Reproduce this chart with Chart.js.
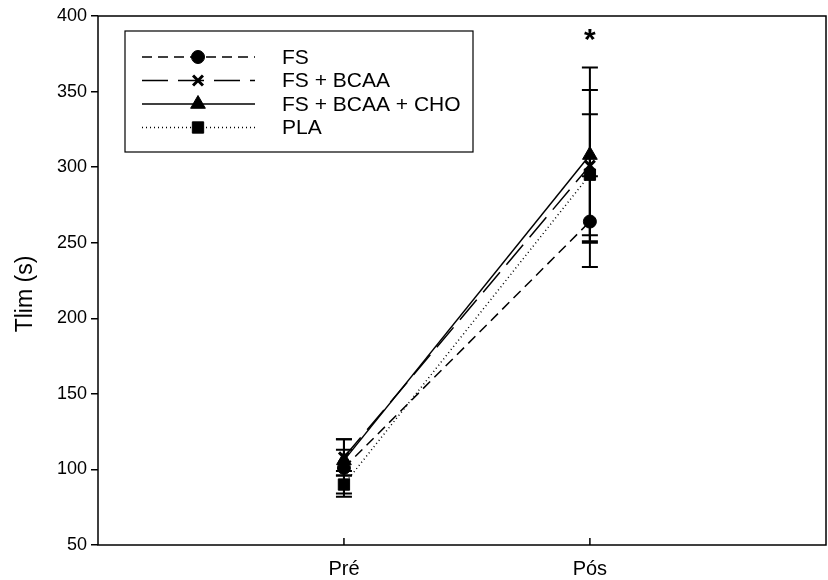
<!DOCTYPE html>
<html>
<head>
<meta charset="utf-8">
<script src="https://cdn.jsdelivr.net/npm/chart.js@4.4.1/dist/chart.umd.min.js"></script>
<style>
  html, body { margin: 0; padding: 0; background: #fff; }
  #wrap { width: 828px; height: 580px; }
</style>
</head>
<body>
<div id="wrap"><canvas id="tlimChart" width="828" height="580"></canvas></div>
<script>
// categories on the x axis (placed at x = 1, 2)
const categories = ["Pré", "Pós"];
const catX = [1, 2];

// mean values and error (± SD)
const fsMean = [101, 264];
const fsErr = [19, 30];
const bcaaMean = [108, 301];
const bcaaErr = [12, 50];
const choMean = [106, 308];
const choErr = [7, 58];
const plaMean = [90, 295];
const plaErr = [6, 40];

const yTicks = [50, 100, 150, 200, 250, 300, 350, 400];
const yTitle = "Tlim (s)";
const starValue = 388; // "*" above Pós

const FONT = "'Liberation Sans', Arial, sans-serif";

const toPts = (arr) => arr.map((v, i) => ({ x: catX[i], y: v }));

const series = [
  { label: "FS", mean: fsMean, err: fsErr, dash: [10, 6], style: "circle", r: 6.5, bw: 1 },
  { label: "FS + BCAA", mean: bcaaMean, err: bcaaErr, dash: [26, 10], style: "crossRot", r: 7, bw: 3 },
  { label: "FS + BCAA + CHO", mean: choMean, err: choErr, dash: [], style: "triangle", r: 8.5, bw: 1 },
  { label: "PLA", mean: plaMean, err: plaErr, dash: [1, 3], style: "rect", r: 8, bw: 1 }
];

const datasets = series.map(s => ({
  label: s.label,
  data: toPts(s.mean),
  borderColor: "#000",
  backgroundColor: "#000",
  borderWidth: 1.5,
  borderDash: s.dash,
  pointStyle: s.style,
  pointRadius: s.r,
  pointBorderWidth: s.bw,
  pointBackgroundColor: "#000",
  pointBorderColor: "#000",
  tension: 0,
  errors: s.err
}));

// error bars, drawn under the markers
const errorBars = {
  id: "errorBars",
  beforeDatasetsDraw(chart) {
    const { ctx, scales: { x, y } } = chart;
    ctx.save();
    ctx.strokeStyle = "#000";
    ctx.lineWidth = 2;
    ctx.setLineDash([]);
    chart.data.datasets.forEach(ds => {
      ds.data.forEach((p, i) => {
        const px = x.getPixelForValue(p.x);
        const hi = y.getPixelForValue(p.y + ds.errors[i]);
        const lo = y.getPixelForValue(p.y - ds.errors[i]);
        ctx.beginPath();
        ctx.moveTo(px, hi); ctx.lineTo(px, lo);
        ctx.moveTo(px - 8, hi); ctx.lineTo(px + 8, hi);
        ctx.moveTo(px - 8, lo); ctx.lineTo(px + 8, lo);
        ctx.stroke();
      });
    });
    ctx.restore();
  }
};

function drawMarker(ctx, s, cx, cy) {
  const opts = { pointStyle: s.style, radius: s.r, borderWidth: s.bw, rotation: 0 };
  ctx.fillStyle = "#000";
  ctx.strokeStyle = "#000";
  ctx.lineWidth = s.bw;
  ctx.setLineDash([]);
  Chart.helpers.drawPoint(ctx, opts, cx, cy);
}

// frame, inside x ticks, y title, asterisk and the boxed legend
const extras = {
  id: "extras",
  afterDraw(chart) {
    const { ctx, chartArea: a, scales: { x, y } } = chart;
    ctx.save();
    ctx.strokeStyle = "#000";
    ctx.lineWidth = 1.5;
    ctx.setLineDash([]);
    ctx.strokeRect(a.left, a.top, a.right - a.left, a.bottom - a.top);

    // x ticks pointing into the plot
    catX.forEach(v => {
      const px = x.getPixelForValue(v);
      ctx.beginPath();
      ctx.moveTo(px, a.bottom);
      ctx.lineTo(px, a.bottom - 7);
      ctx.stroke();
    });

    // y axis title (sits a bit below the axis middle in the original)
    ctx.save();
    ctx.fillStyle = "#000";
    ctx.font = "23px " + FONT;
    ctx.textAlign = "center";
    ctx.textBaseline = "alphabetic";
    ctx.translate(32, 294);
    ctx.rotate(-Math.PI / 2);
    ctx.fillText(yTitle, 0, 0);
    ctx.restore();

    // significance mark
    ctx.fillStyle = "#000";
    ctx.font = "bold 30px " + FONT;
    ctx.textAlign = "center";
    ctx.textBaseline = "middle";
    ctx.fillText("*", x.getPixelForValue(catX[1]), y.getPixelForValue(starValue) + 7);

    // legend
    const lx = 125, ly = 31, lw = 348, lh = 121;
    ctx.fillStyle = "#fff";
    ctx.fillRect(lx, ly, lw, lh);
    ctx.lineWidth = 1.2;
    ctx.strokeRect(lx, ly, lw, lh);
    ctx.font = "21px " + FONT;
    ctx.textAlign = "left";
    series.forEach((s, i) => {
      const rowY = 57 + i * 23.5;
      ctx.lineWidth = 1.5;
      ctx.setLineDash(s.dash);
      ctx.beginPath();
      ctx.moveTo(142, rowY);
      ctx.lineTo(255, rowY);
      ctx.stroke();
      drawMarker(ctx, s, 198, rowY);
      ctx.fillStyle = "#000";
      ctx.fillText(s.label, 282, rowY + 1);
    });
    ctx.restore();
  }
};

new Chart(document.getElementById("tlimChart"), {
  type: "line",
  data: { datasets },
  options: {
    responsive: false,
    animation: false,
    devicePixelRatio: 1,
    layout: { autoPadding: false, padding: { top: 16, right: 2, left: 0, bottom: 0 } },
    plugins: {
      legend: { display: false },
      tooltip: { enabled: false }
    },
    scales: {
      x: {
        type: "linear",
        min: 0,
        max: 2.96,
        afterBuildTicks(scale) {
          scale.ticks = catX.map(v => ({ value: v }));
        },
        afterFit(scale) { scale.height = 35; },
        ticks: {
          callback: (v) => categories[catX.indexOf(v)] ?? "",
          color: "#000",
          font: { family: FONT, size: 20 },
          padding: 12,
          maxRotation: 0
        },
        grid: { display: false, drawTicks: false },
        border: { display: false }
      },
      y: {
        min: 50,
        max: 400,
        afterBuildTicks(scale) {
          scale.ticks = yTicks.map(v => ({ value: v }));
        },
        afterFit(scale) { scale.width = 98; },
        ticks: {
          color: "#000",
          font: { family: FONT, size: 18 },
          padding: 4
        },
        grid: {
          drawOnChartArea: false,
          drawTicks: true,
          tickLength: 7,
          color: "#000",
          lineWidth: 1.5
        },
        border: { display: false }
      }
    }
  },
  plugins: [errorBars, extras]
});
</script>
</body>
</html>
